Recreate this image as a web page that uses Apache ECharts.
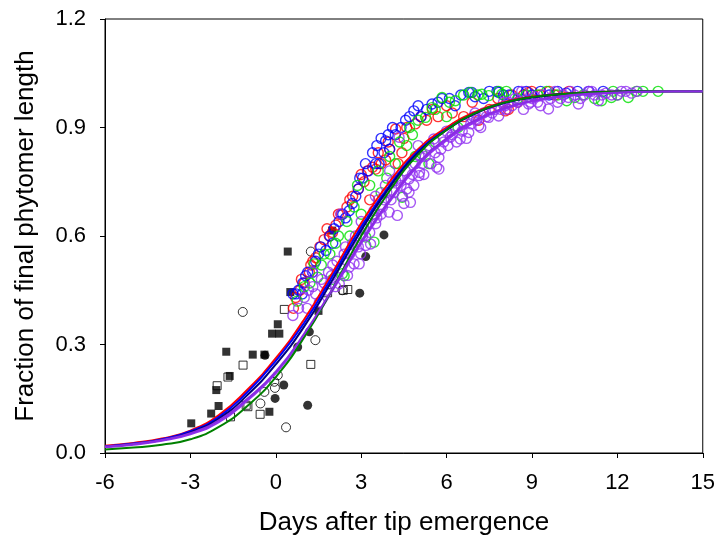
<!DOCTYPE html>
<html>
<head>
<meta charset="utf-8">
<script src="https://cdn.jsdelivr.net/npm/echarts@6/dist/echarts.min.js"></script>
<style>html,body{margin:0;padding:0;background:#fff}#c{width:718px;height:545px}</style>
</head>
<body>
<div id="c"></div>
<script>
// ---- Data ----
const curveX = [-6,-5,-4,-3,-2,-1,0,1,2,3,4,5,6,7,8,9,10,11,12,13,14,15];
const curveRed    = [0.020,0.028,0.040,0.062,0.105,0.175,0.262,0.370,0.500,0.635,0.750,0.840,0.900,0.943,0.970,0.985,0.993,0.997,0.999,1.0,1.0,1.0];
const curveBlue   = [0.018,0.026,0.038,0.060,0.100,0.168,0.255,0.360,0.490,0.625,0.740,0.835,0.895,0.940,0.968,0.984,0.992,0.996,0.999,1.0,1.0,1.0];
const curveNavy   = [0.017,0.025,0.036,0.057,0.095,0.160,0.245,0.350,0.480,0.615,0.735,0.830,0.893,0.938,0.967,0.983,0.992,0.996,0.999,1.0,1.0,1.0];
const curveGreen  = [0.010,0.015,0.023,0.038,0.072,0.130,0.210,0.320,0.455,0.600,0.725,0.825,0.893,0.940,0.968,0.984,0.992,0.997,0.999,1.0,1.0,1.0];
const curvePurple = [0.018,0.025,0.036,0.055,0.090,0.150,0.225,0.330,0.455,0.585,0.700,0.800,0.870,0.920,0.953,0.974,0.986,0.993,0.997,0.999,1.0,1.0];
const curvePurple2= [0.016,0.023,0.034,0.052,0.085,0.145,0.220,0.325,0.450,0.580,0.695,0.795,0.865,0.915,0.950,0.972,0.985,0.992,0.996,0.999,1.0,1.0];

const blackFilledSquares = [[0.42,0.557],[0.51,0.445],[0.07,0.356],[-0.13,0.33],[0.125,0.33],[-1.74,0.28],[-0.81,0.272],[-0.4,0.272],[-1.62,0.213],[-2.09,0.174],[-2.01,0.13],[-0.225,0.114],[-2.97,0.082],[1.5,0.393],[-2.27,0.109],[1.98,0.615]];
const blackOpenSquares = [[0.3,0.397],[-1.15,0.243],[-1.68,0.21],[-2.06,0.186],[-0.98,0.128],[-0.55,0.107],[-1.59,0.1],[1.23,0.245],[2.37,0.45],[2.53,0.452],[1.82,0.443],[-1.04,0.132]];
const blackFilledCircles = [[3.16,0.543],[2.95,0.442],[1.18,0.335],[0.77,0.293],[0.28,0.188],[-0.025,0.151],[1.12,0.132],[-0.38,0.27],[3.8,0.603]];
const blackOpenCircles = [[1.23,0.557],[-1.16,0.39],[1.39,0.312],[0.07,0.215],[-0.05,0.197],[-0.03,0.18],[-0.4,0.169],[-0.54,0.137],[0.36,0.071],[2.34,0.45]];

const redCircles = [[0.62,0.40],[0.7,0.43],[0.85,0.45],[0.9,0.48],[1.0,0.47],[1.18,0.50],[1.23,0.52],[1.3,0.53],[1.4,0.54],[1.55,0.57],[1.7,0.59],[1.8,0.62],[1.88,0.60],[1.99,0.61],[2.11,0.63],[2.2,0.66],[2.3,0.66],[2.5,0.68],[2.6,0.70],[2.7,0.71],[2.9,0.73],[3.0,0.77],[3.1,0.75],[3.22,0.78],[3.3,0.70],[3.4,0.79],[3.51,0.785],[3.6,0.83],[3.7,0.80],[3.86,0.81],[3.95,0.86],[4.0,0.84],[4.21,0.896],[4.3,0.80],[4.43,0.83],[4.5,0.87],[4.6,0.90],[4.9,0.91],[5.1,0.93],[5.3,0.92],[5.5,0.95],[5.7,0.93],[6.0,0.96],[6.2,0.94],[6.6,0.93],[6.9,0.97],[7.13,0.92],[7.5,0.95],[7.8,0.98],[8.06,0.946],[8.17,0.95],[8.29,0.99],[8.5,0.97],[8.7,0.99],[8.88,0.997],[8.99,1.0],[9.3,0.99],[9.6,1.0],[9.8,0.99],[10.3,1.0]];
const blueCircles = [[0.6,0.44],[0.71,0.44],[0.8,0.45],[0.93,0.44],[0.95,0.47],[1.05,0.49],[1.12,0.50],[1.29,0.50],[1.4,0.53],[1.5,0.55],[1.58,0.57],[1.76,0.56],[1.9,0.60],[2.0,0.58],[2.05,0.62],[2.22,0.64],[2.35,0.66],[2.45,0.65],[2.58,0.67],[2.69,0.69],[2.81,0.71],[2.9,0.73],[2.95,0.76],[3.05,0.76],[3.15,0.80],[3.25,0.78],[3.4,0.83],[3.51,0.80],[3.55,0.85],[3.63,0.80],[3.7,0.87],[3.8,0.83],[3.86,0.863],[3.95,0.88],[4.0,0.84],[4.1,0.90],[4.2,0.88],[4.4,0.90],[4.56,0.92],[4.7,0.93],[4.85,0.946],[5.0,0.96],[5.1,0.93],[5.3,0.95],[5.49,0.965],[5.7,0.97],[5.84,0.98],[6.1,0.98],[6.3,0.96],[6.5,0.99],[6.78,0.997],[6.89,0.997],[7.0,0.985],[7.3,0.98],[7.5,1.0],[7.77,1.0],[7.83,0.997],[8.0,0.99],[8.2,0.99],[8.53,1.0],[8.8,1.0],[9.0,0.99],[9.3,1.0],[9.6,0.99],[9.9,1.0],[10.2,0.995],[10.6,1.0],[11.0,1.0],[11.5,1.0]];
const greenCircles = [[0.75,0.42],[1.0,0.46],[1.2,0.47],[1.35,0.523],[1.47,0.486],[1.6,0.52],[1.7,0.55],[1.9,0.55],[2.0,0.48],[2.1,0.58],[2.2,0.60],[2.34,0.496],[2.4,0.49],[2.5,0.64],[2.6,0.60],[2.75,0.68],[2.87,0.74],[3.0,0.66],[3.1,0.62],[3.16,0.597],[3.3,0.74],[3.45,0.583],[3.6,0.78],[3.7,0.72],[3.9,0.76],[4.0,0.82],[4.2,0.80],[4.35,0.86],[4.44,0.707],[4.6,0.85],[4.7,0.90],[4.8,0.88],[4.9,0.82],[5.0,0.92],[5.14,0.827],[5.26,0.928],[5.38,0.80],[5.49,0.955],[5.6,0.95],[5.6,0.86],[5.84,0.983],[6.0,0.93],[6.1,0.97],[6.31,0.974],[6.4,0.90],[6.6,0.99],[6.83,0.997],[7.1,0.99],[7.24,0.992],[7.48,0.988],[7.83,1.0],[7.94,0.992],[8.1,1.0],[8.5,0.98],[8.8,0.99],[9.2,0.99],[9.52,1.0],[9.9,0.99],[10.22,0.974],[10.5,0.983],[10.8,0.99],[11.2,0.98],[11.44,0.974],[11.79,0.983],[11.85,1.0],[12.0,0.99],[12.38,0.983],[12.67,1.0],[12.9,1.0],[13.43,1.0]];
const purpleCircles = [[0.6,0.38],[0.8,0.40],[1.0,0.43],[1.1,0.40],[1.15,0.45],[1.29,0.50],[1.3,0.46],[1.4,0.44],[1.53,0.417],[1.6,0.48],[1.7,0.47],[1.8,0.45],[1.85,0.50],[1.95,0.49],[2.0,0.52],[2.1,0.46],[2.15,0.53],[2.23,0.468],[2.28,0.661],[2.3,0.51],[2.4,0.55],[2.45,0.57],[2.52,0.491],[2.58,0.514],[2.6,0.55],[2.7,0.58],[2.75,0.523],[2.8,0.60],[2.9,0.57],[2.93,0.523],[2.98,0.551],[3.0,0.64],[3.05,0.60],[3.1,0.62],[3.16,0.574],[3.2,0.63],[3.3,0.61],[3.33,0.578],[3.4,0.66],[3.45,0.67],[3.5,0.71],[3.51,0.634],[3.55,0.65],[3.6,0.70],[3.7,0.66],[3.75,0.68],[3.8,0.70],[3.85,0.74],[3.9,0.72],[3.98,0.666],[4.0,0.78],[4.05,0.70],[4.1,0.75],[4.15,0.72],[4.21,0.753],[4.27,0.657],[4.3,0.76],[4.33,0.873],[4.4,0.74],[4.45,0.71],[4.5,0.69],[4.55,0.78],[4.6,0.73],[4.68,0.721],[4.73,0.693],[4.68,0.758],[4.8,0.77],[4.85,0.74],[4.9,0.80],[5.0,0.85],[5.03,0.767],[5.05,0.776],[5.03,0.822],[5.14,0.80],[5.2,0.77],[5.25,0.82],[5.3,0.84],[5.38,0.85],[5.45,0.80],[5.55,0.868],[5.6,0.83],[5.65,0.79],[5.73,0.785],[5.73,0.817],[5.8,0.84],[5.9,0.86],[6.0,0.89],[6.05,0.85],[6.13,0.873],[6.2,0.88],[6.3,0.90],[6.35,0.86],[6.48,0.868],[6.55,0.89],[6.6,0.91],[6.7,0.87],[6.78,0.886],[6.85,0.91],[6.95,0.93],[7.0,0.94],[7.05,0.92],[7.13,0.905],[7.2,0.90],[7.3,0.94],[7.4,0.93],[7.48,0.928],[7.6,0.94],[7.7,0.95],[7.83,0.932],[7.9,0.95],[8.0,0.97],[8.05,0.96],[8.1,0.95],[8.18,0.97],[8.3,0.96],[8.4,0.98],[8.5,0.97],[8.64,1.0],[8.7,0.95],[8.88,0.965],[8.95,0.97],[9.0,0.98],[9.1,0.985],[9.2,0.97],[9.3,0.96],[9.4,0.99],[9.58,0.951],[9.65,0.98],[9.81,1.0],[9.9,0.97],[10.0,0.98],[10.1,0.99],[10.28,0.983],[10.35,1.0],[10.5,0.99],[10.63,0.965],[10.7,0.98],[10.85,0.99],[10.98,1.0],[11.1,1.0],[11.2,0.99],[11.33,0.974],[11.45,0.99],[11.6,0.995],[11.8,0.99],[12.0,0.99],[12.14,1.0],[12.3,1.0],[12.5,0.995],[12.7,1.0]];

const xTicks = {min:-6, max:15, interval:3};
const yTicks = {min:0, max:1.2, interval:0.3};

// ---- Chart ----
const chart = echarts.init(document.getElementById('c'), null, {renderer:'canvas'});
const font = '"Liberation Sans", Arial, sans-serif';
function pairs(ys){ return curveX.map((x,i)=>[x, ys[i]]); }
function circ(name, data, color){
  return {name, type:'scatter', data, symbol:'circle', symbolSize:10,
    itemStyle:{color:'rgba(0,0,0,0)', borderColor:color, borderWidth:1.4}, z:2};
}
function line(name, ys, color){
  return {name, type:'line', data:pairs(ys), smooth:0.5, showSymbol:false, symbol:'none',
    lineStyle:{color, width:2}, z:5};
}
chart.setOption({
  animation:false,
  backgroundColor:'#fff',
  grid:{left:105, right:13, top:19, bottom:92, show:true, borderColor:'#000', borderWidth:1},
  xAxis:{type:'value', min:xTicks.min, max:xTicks.max, interval:xTicks.interval,
    name:'Days after tip emergence', nameLocation:'middle', nameGap:57,
    nameTextStyle:{fontFamily:font, fontSize:26, color:'#000'},
    axisLine:{show:true, onZero:false, lineStyle:{color:'#000', width:1}},
    axisTick:{show:true, inside:false, length:5, lineStyle:{color:'#000'}},
    axisLabel:{fontFamily:font, fontSize:22, color:'#000', margin:19},
    splitLine:{show:false}},
  yAxis:{type:'value', min:yTicks.min, max:yTicks.max, interval:yTicks.interval,
    name:'Fraction of final phytomer length', nameLocation:'middle', nameGap:66,
    nameTextStyle:{fontFamily:font, fontSize:26, color:'#000'},
    axisLine:{show:true, onZero:false, lineStyle:{color:'#000', width:1}},
    axisTick:{show:true, inside:false, length:5, lineStyle:{color:'#000'}},
    axisLabel:{fontFamily:font, fontSize:22, color:'#000', margin:19, formatter:v=>v.toFixed(1)},
    splitLine:{show:false}},
  series:[
    {name:'bfs', type:'scatter', data:blackFilledSquares, symbol:'rect', symbolSize:8, itemStyle:{color:'#000'}, z:1},
    {name:'bos', type:'scatter', data:blackOpenSquares, symbol:'rect', symbolSize:8, itemStyle:{color:'rgba(0,0,0,0)', borderColor:'#000', borderWidth:1}, z:1},
    {name:'bfc', type:'scatter', data:blackFilledCircles, symbol:'circle', symbolSize:9, itemStyle:{color:'#000'}, z:1},
    {name:'boc', type:'scatter', data:blackOpenCircles, symbol:'circle', symbolSize:9, itemStyle:{color:'rgba(0,0,0,0)', borderColor:'#000', borderWidth:1}, z:1},
    circ('red', redCircles, '#FF0000'),
    circ('blue', blueCircles, '#0000FF'),
    circ('green', greenCircles, '#00E000'),
    circ('purple', purpleCircles, '#9030F0'),
    line('cRed', curveRed, '#FF0000'),
    line('cBlue', curveBlue, '#0000FF'),
    line('cNavy', curveNavy, '#000080'),
    line('cPurple2', curvePurple2, '#9030F0'),
    line('cGreen', curveGreen, '#008000'),
    line('cPurple', curvePurple, '#8A2BE2')
  ]
});
</script>
</body>
</html>
